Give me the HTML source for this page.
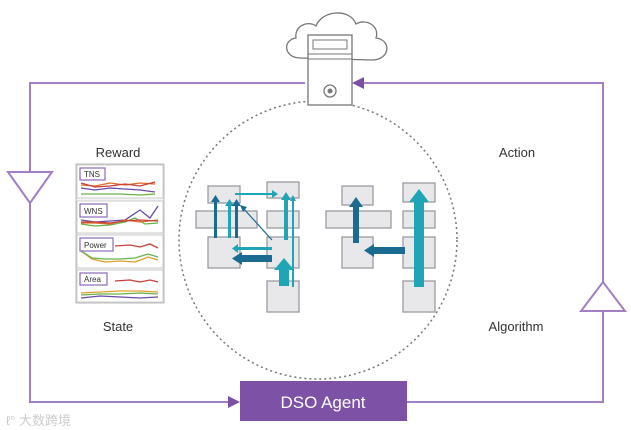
<!DOCTYPE html>
<html><head><meta charset="utf-8"><style>
html,body{margin:0;padding:0;background:#fff;width:631px;height:430px;overflow:hidden}
text{font-family:"Liberation Sans",sans-serif}
</style></head><body>
<svg width="631" height="430" viewBox="0 0 631 430" xmlns="http://www.w3.org/2000/svg">
<g stroke="#a27fc4" stroke-width="2" fill="none">
<polyline points="305,83 30,83 30,402 232,402"/>
<polyline points="407,402 603,402 603,83 362,83"/>
<polygon points="8,172 52,172 30,203" fill="#fff"/>
<polygon points="581,311 625,311 603,282" fill="#fff"/>
</g>
<polygon points="352,83 364,77 364,89" fill="#7d4ea6"/>
<polygon points="240,402 228,396 228,408" fill="#7d4ea6"/>
<circle cx="318" cy="240" r="139" fill="none" stroke="#777" stroke-width="1.5" stroke-dasharray="2,3"/>
<!-- cloud -->
<path d="M300,58 C284,58 282,40 296,38 C294,26 308,20 316,26 C322,10 350,8 356,24 C366,18 380,26 376,38 C392,40 390,60 372,60 Z" fill="#fff" stroke="#777" stroke-width="1.3"/>
<rect x="308" y="35" width="44" height="70" fill="#fff" stroke="#777" stroke-width="1.3"/>
<rect x="313" y="40" width="34" height="9" fill="none" stroke="#777"/>
<line x1="308" y1="54" x2="352" y2="54" stroke="#777"/><line x1="308" y1="59" x2="352" y2="59" stroke="#777"/>
<circle cx="330" cy="91" r="6" fill="none" stroke="#777" stroke-width="1.3"/><circle cx="330" cy="91" r="2.5" fill="#777"/>
<!-- blocks -->
<g fill="#e8e8ea" stroke="#9a9aa2" stroke-width="1.3">
<rect x="208" y="186" width="32" height="17"/><rect x="196" y="211" width="61" height="17"/><rect x="208" y="237" width="32" height="31"/>
<rect x="267" y="182" width="32" height="16"/><rect x="267" y="211" width="32" height="17"/><rect x="267" y="237" width="32" height="31"/><rect x="267" y="281" width="32" height="31"/>
<rect x="342" y="186" width="31" height="19"/><rect x="326" y="211" width="65" height="17"/><rect x="342" y="237" width="31" height="31"/>
<rect x="403" y="183" width="32" height="19"/><rect x="403" y="211" width="32" height="17"/><rect x="403" y="237" width="32" height="31"/><rect x="403" y="281" width="32" height="31"/>
</g>
<!-- arrows right group -->
<rect x="414" y="200" width="10" height="87" fill="#1fa5b5"/><polygon points="409,202 429,202 419,189" fill="#1fa5b5"/>
<rect x="353" y="205" width="6" height="38" fill="#1b6a92"/><polygon points="349,207 363,207 356,197" fill="#1b6a92"/>
<rect x="372" y="247" width="33" height="7" fill="#1b6a92"/><polygon points="374,244 374,257 364,250.5" fill="#1b6a92"/>
<!-- arrows left group -->
<rect x="235" y="193" width="38" height="2" fill="#1fa5b5"/><polygon points="272,190 272,198 278,194" fill="#1fa5b5"/>
<rect x="214" y="200" width="3" height="38" fill="#1b6a92"/><polygon points="211,202 220,202 215.5,195" fill="#1b6a92"/>
<rect x="228" y="204" width="3" height="34" fill="#1fa5b5"/><polygon points="225,206 234,206 229.5,199" fill="#1fa5b5"/>
<rect x="235" y="204" width="3" height="34" fill="#1b6a92"/><polygon points="232,206 241,206 236.5,199" fill="#1b6a92"/>
<line x1="272" y1="240" x2="243" y2="208" stroke="#1b6a92" stroke-width="1.2"/><polygon points="240,205 247,207 243,212" fill="#1b6a92"/>
<rect x="284" y="198" width="4" height="42" fill="#1fa5b5"/><polygon points="281,200 291,200 286,192" fill="#1fa5b5"/>
<rect x="292" y="200" width="2" height="87" fill="#1fa5b5"/><polygon points="290,201 296,201 293,195" fill="#1fa5b5"/>
<rect x="237" y="247" width="35" height="3" fill="#1fa5b5"/><polygon points="238,244 238,253 232,248.5" fill="#1fa5b5"/>
<rect x="240" y="255" width="32" height="7" fill="#1b6a92"/><polygon points="242,252 242,265 232,258.5" fill="#1b6a92"/>
<rect x="279" y="268" width="10" height="18" fill="#1fa5b5"/><polygon points="274,270 294,270 284,258" fill="#1fa5b5"/>
<!-- charts -->
<g>
<rect x="76" y="164" width="88" height="139" fill="#f4f4f6" stroke="#bbb"/>
<rect x="77" y="165" width="86" height="33" fill="#fff" stroke="#ccc"/>
<rect x="77" y="201" width="86" height="32" fill="#fff" stroke="#ccc"/>
<rect x="77" y="235" width="86" height="33" fill="#fff" stroke="#ccc"/>
<rect x="77" y="270" width="86" height="32" fill="#fff" stroke="#ccc"/>
<g fill="none" stroke-width="1.3">
<polyline points="81,185 95,186 110,183 125,185 140,183 155,184" stroke="#e06a2a"/>
<polyline points="81,183 95,187 110,186 125,184 140,186 155,182" stroke="#c8403a"/>
<polyline points="81,188 95,190 110,188 125,189 140,190 155,192" stroke="#6a4aa8"/>
<polyline points="81,194 100,194 120,194 140,195 155,194" stroke="#6ab04a"/>
<polyline points="81,220 95,222 110,221 125,220 140,210 150,218 158,206" stroke="#6a4aa8"/>
<polyline points="81,224 95,226 110,225 125,222 135,218 145,224 158,223" stroke="#6ab04a"/>
<polyline points="81,223 95,223 110,224 125,220 140,222 158,220" stroke="#e06a2a"/>
<polyline points="81,222 95,222 110,223 125,221 140,220 158,221" stroke="#c8403a"/>
<polyline points="115,246 130,245 140,247 150,244 158,248" stroke="#c8403a"/>
<polyline points="81,251 92,259 105,262 120,261 135,262 148,257 158,260" stroke="#e0a02a"/>
<polyline points="81,251 92,258 105,259 120,259 135,258 148,254 158,257" stroke="#6ab04a"/>
<polyline points="115,281 130,280 140,282 150,280 158,282" stroke="#c8403a"/>
<polyline points="81,293 100,292 120,291 140,291 158,292" stroke="#e0a02a"/>
<polyline points="81,295 100,294 120,294 140,293 158,294" stroke="#6ab04a"/>
<polyline points="81,298 100,296 120,297 140,298 158,297" stroke="#6a4aa8"/>
</g>
<g fill="#fff" stroke="#8a6ab8" stroke-width="1.2">
<rect x="80" y="168" width="25" height="12"/><rect x="80" y="204" width="27" height="13"/><rect x="80" y="238" width="33" height="13"/><rect x="80" y="273" width="27" height="12"/>
</g>
<g font-size="8" fill="#333"><text x="84" y="177">TNS</text><text x="84" y="214">WNS</text><text x="84" y="248">Power</text><text x="84" y="282">Area</text></g>
</g>
<g font-size="13" fill="#333" text-anchor="middle">
<text x="118" y="157">Reward</text><text x="517" y="157">Action</text>
<text x="118" y="331">State</text><text x="516" y="331">Algorithm</text>
</g>
<rect x="240" y="381" width="167" height="40" fill="#7d52a6"/>
<text x="323" y="408" font-size="17" fill="#fff" text-anchor="middle">DSO Agent</text>
<text x="6" y="425" font-size="13" fill="#ccc" font-family="Liberation Sans,Noto Sans CJK SC,sans-serif">ℓ° 大数跨境</text>
</svg>
</body></html>
